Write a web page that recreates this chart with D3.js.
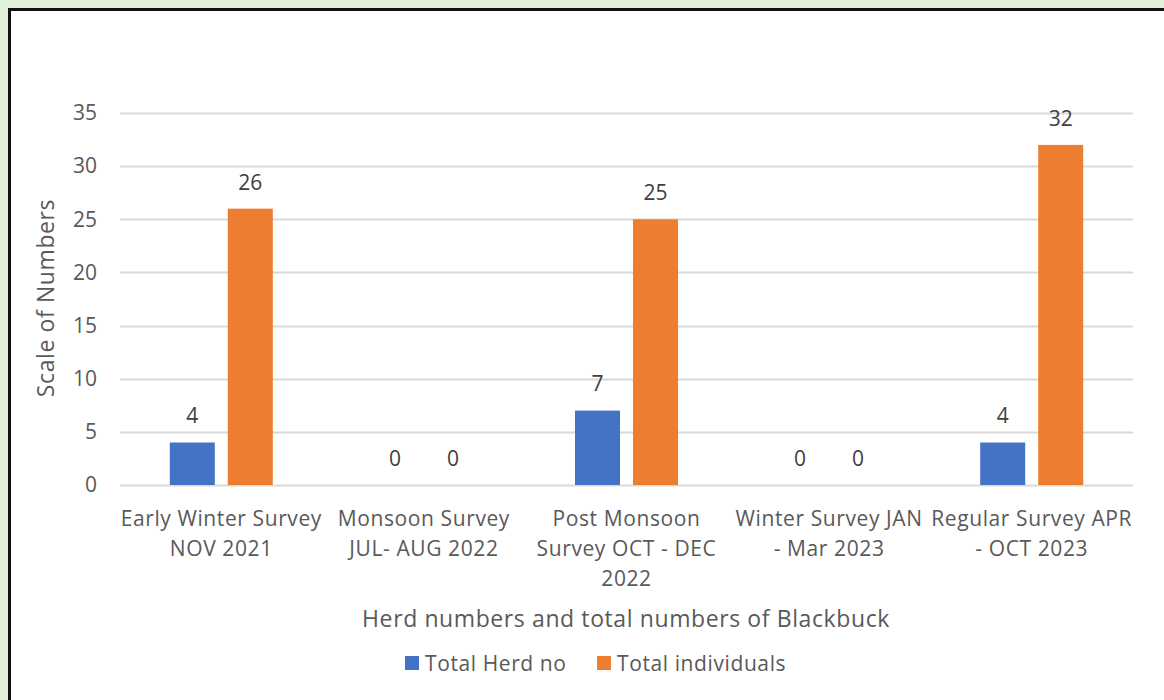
<!DOCTYPE html>
<html><head><meta charset="utf-8">
<script src="https://cdn.jsdelivr.net/npm/d3@7"></script>
<style>
html,body{margin:0;padding:0;background:#e2efda;}
svg{display:block;}
text{font-family:"Open Sans", sans-serif;fill:#595959;}
</style></head>
<body>
<svg id="c" width="1164" height="700"></svg>
<script>
const categories = [
  ["Early Winter Survey", "NOV 2021"],
  ["Monsoon Survey", "JUL- AUG 2022"],
  ["Post Monsoon", "Survey OCT - DEC", "2022"],
  ["Winter Survey JAN", "- Mar 2023"],
  ["Regular Survey APR", "- OCT 2023"]
];
const seriesNames = ["Total Herd no", "Total individuals"];
const herdValues = [4, 0, 7, 0, 4];
const individualValues = [26, 0, 25, 0, 32];
const yTicks = [0, 5, 10, 15, 20, 25, 30, 35];
const colors = ["#4472C4", "#ED7D31"];
const yTitle = "Scale of Numbers";
const xTitle = "Herd numbers and total numbers of Blackbuck";

(function () {
const svg = d3.select("#c");
svg.append("rect").attr("x", 9.5).attr("y", 9.5).attr("width", 1170).attr("height", 700)
  .attr("fill", "#fff").attr("stroke", "#111").attr("stroke-width", 3);

const pLeft = 120, pRight = 1133, pTop = 113, pBottom = 485;
const x = d3.scaleBand().domain(d3.range(categories.length)).range([pLeft, pRight]);
const y = d3.scaleLinear().domain([0, 35]).range([pBottom, pTop]);
const series = [herdValues, individualValues];
const barW = 45, gap = 13;
const fs = 21, ls = "0.6px";

svg.append("g").selectAll("line").data(yTicks).join("line")
  .attr("x1", pLeft).attr("x2", pRight)
  .attr("y1", d => Math.round(y(d)) + 0.5).attr("y2", d => Math.round(y(d)) + 0.5)
  .attr("stroke", "#d9d9d9").attr("stroke-width", 2);

svg.append("g").selectAll("text").data(yTicks).join("text")
  .attr("x", 97).attr("y", d => y(d)).attr("dy", "0.35em")
  .attr("text-anchor", "end").attr("font-size", fs).text(d => d);

series.forEach((vals, s) => {
  const off = s === 0 ? -(gap / 2 + barW) : gap / 2;
  const g = svg.append("g");
  g.selectAll("rect").data(vals).join("rect")
    .attr("x", (d, i) => x(i) + x.bandwidth() / 2 + off)
    .attr("width", barW)
    .attr("y", d => y(d)).attr("height", d => pBottom - y(d))
    .attr("fill", colors[s]);
  g.selectAll("text").data(vals).join("text")
    .attr("x", (d, i) => x(i) + x.bandwidth() / 2 + off + barW / 2)
    .attr("y", d => y(d) - 26.5).attr("dy", "0.35em")
    .attr("text-anchor", "middle").attr("font-size", fs)
    .style("fill", "#404040").text(d => d);
});

const xl = svg.append("g");
categories.forEach((lines, i) => {
  const cx = x(i) + x.bandwidth() / 2;
  const t = xl.append("text").attr("text-anchor", "middle").attr("font-size", fs)
    .attr("letter-spacing", ls).attr("x", cx).attr("y", 526);
  lines.forEach((ln, j) => t.append("tspan").attr("x", cx)
    .attr("dy", j === 0 ? 0 : 30).text(ln));
});

svg.append("text").attr("transform", "translate(54,298) rotate(-90)")
  .attr("text-anchor", "middle").attr("font-size", 23).attr("letter-spacing", ls).text(yTitle);
svg.append("text").attr("x", 626).attr("y", 627)
  .attr("text-anchor", "middle").attr("font-size", 23).attr("letter-spacing", ls).text(xTitle);

const lg = svg.append("g");
const legX = [405, 597];
seriesNames.forEach((n, i) => {
  lg.append("rect").attr("x", legX[i]).attr("y", 656).attr("width", 14).attr("height", 14).attr("fill", colors[i]);
  lg.append("text").attr("x", legX[i] + 20).attr("y", 671).attr("font-size", fs)
    .attr("letter-spacing", ls).text(n);
});
})();
</script>
</body></html>
